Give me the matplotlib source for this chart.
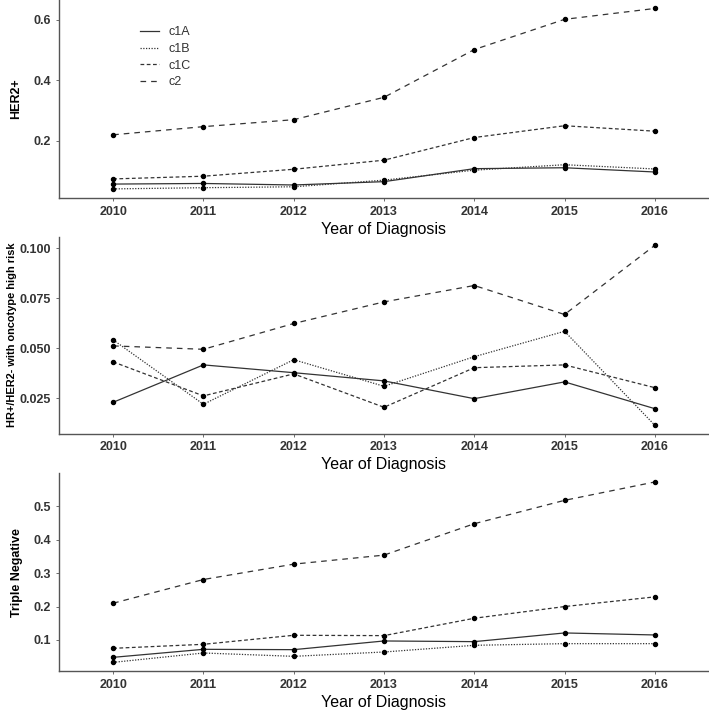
import matplotlib
matplotlib.use('Agg')
import matplotlib.pyplot as plt

plt.rcParams['font.family'] = ['Liberation Sans', 'DejaVu Sans']

years = [2010, 2011, 2012, 2013, 2014, 2015, 2016]
groups = ['c1A', 'c1B', 'c1C', 'c2']

# HER2+
her2_c1a = [0.057, 0.059, 0.054, 0.065, 0.108, 0.111, 0.097]
her2_c1b = [0.041, 0.045, 0.048, 0.070, 0.103, 0.121, 0.107]
her2_c1c = [0.074, 0.083, 0.106, 0.136, 0.211, 0.250, 0.232]
her2_c2 = [0.220, 0.247, 0.270, 0.344, 0.502, 0.602, 0.638]

# HR+/HER2- with oncotype high risk
hr_c1a = [0.0230, 0.0417, 0.0378, 0.0337, 0.0248, 0.0332, 0.0198]
hr_c1b = [0.0542, 0.0220, 0.0443, 0.0310, 0.0458, 0.0585, 0.0115]
hr_c1c = [0.0432, 0.0262, 0.0372, 0.0205, 0.0403, 0.0417, 0.0303]
hr_c2 = [0.0512, 0.0495, 0.0624, 0.0732, 0.0814, 0.0669, 0.1015]

# Triple Negative
tn_c1a = [0.048, 0.072, 0.071, 0.097, 0.095, 0.121, 0.115]
tn_c1b = [0.033, 0.061, 0.051, 0.064, 0.084, 0.089, 0.089]
tn_c1c = [0.075, 0.087, 0.114, 0.113, 0.165, 0.200, 0.229]
tn_c2 = [0.210, 0.281, 0.327, 0.354, 0.448, 0.518, 0.573]

styles = ['-', (0, (1, 1.2)), (0, (3, 2)), (0, (4.5, 4))]
line_col = '#333333'

panels = [
    ('HER2+', 9, 8, [her2_c1a, her2_c1b, her2_c1c, her2_c2], (0.011, 0.666),
     [0.2, 0.4, 0.6], ['0.2', '0.4', '0.6'], (0.7235, 0.2765)),
    ('HR+/HER2- with oncotype high risk', 7.9, 2, [hr_c1a, hr_c1b, hr_c1c, hr_c2], (0.0073, 0.1058),
     [0.025, 0.05, 0.075, 0.1], ['0.025', '0.050', '0.075', '0.100'], (0.3943, 0.2751)),
    ('Triple Negative', 9, 8, [tn_c1a, tn_c1b, tn_c1c, tn_c2], (0.007, 0.599),
     [0.1, 0.2, 0.3, 0.4, 0.5], ['0.1', '0.2', '0.3', '0.4', '0.5'], (0.0628, 0.2762)),
]

fig = plt.figure(figsize=(7.09, 7.16), dpi=100)

for i, (ylab, ylab_fs, ylab_pad, series, ylim, yt, ytl, (bottom, height)) in enumerate(panels):
    ax = fig.add_axes([0.0832, bottom, 0.9168, height])
    for g, vals, ls in zip(groups, series, styles):
        ax.plot(years, vals, linestyle=ls, color=line_col, linewidth=0.9, label=g)
        ax.plot(years, vals, 'o', color='black', markersize=2.9, zorder=3)
    ax.set_xlim(2009.4, 2016.6)
    ax.set_ylim(*ylim)
    ax.set_xticks(years)
    ax.set_xticklabels([str(y) for y in years], fontsize=9, fontweight='bold', color='#333333')
    ax.set_yticks(yt)
    ax.set_yticklabels(ytl, fontsize=9, fontweight='bold', color='#333333')
    ax.tick_params(length=2.5, width=0.6, color='#555555', pad=3)
    for s in ['top', 'right']:
        ax.spines[s].set_visible(False)
    for s in ['left', 'bottom']:
        ax.spines[s].set_color('#555555')
        ax.spines[s].set_linewidth(1.0)
    ax.set_xlabel('Year of Diagnosis', fontsize=11.5, color='black', labelpad=3)
    ax.set_ylabel(ylab, fontsize=ylab_fs, fontweight='bold', color='black', labelpad=ylab_pad)
    ax.patch.set_alpha(0)
    if i == 0:
        leg = ax.legend(loc='upper left', bbox_to_anchor=(0.125, 0.868), frameon=False,
                        fontsize=9, handlelength=1.5, handletextpad=0.8,
                        labelspacing=0.38, borderpad=0, borderaxespad=0)
        for t in leg.get_texts():
            t.set_color('#333333')

fig.savefig('out.png', dpi=100, facecolor='white')
